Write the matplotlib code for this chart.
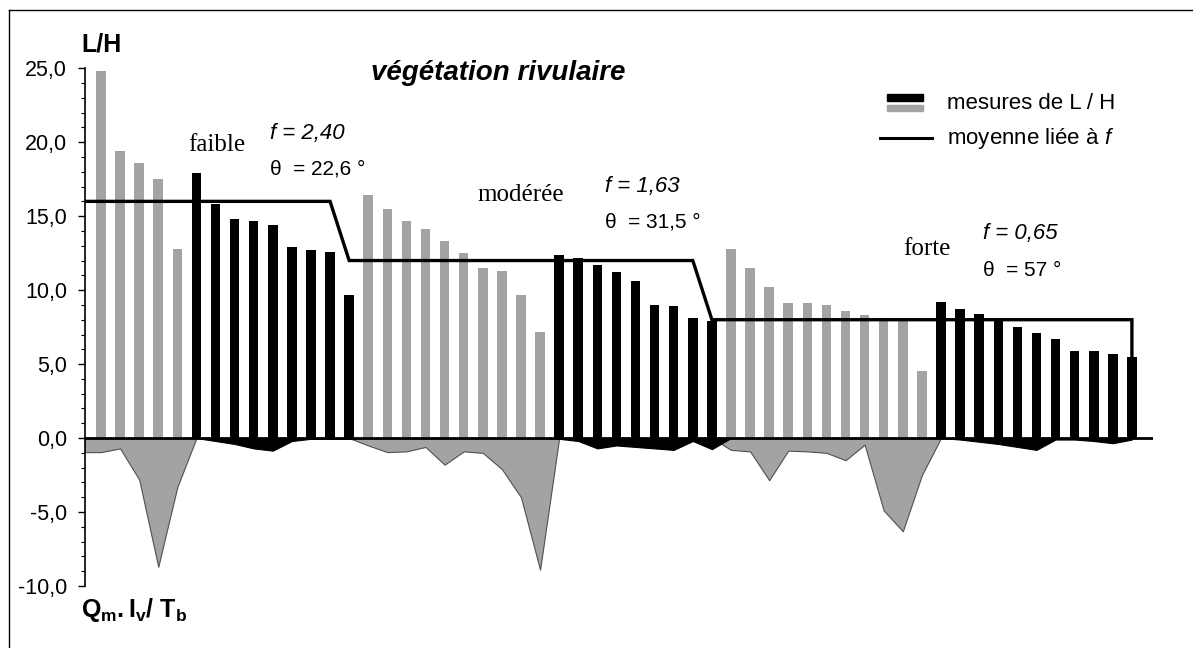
import numpy as np
import matplotlib
matplotlib.use("Agg")
import matplotlib.pyplot as plt
from matplotlib.lines import Line2D
from matplotlib.patches import Rectangle

plt.rcParams["font.family"] = ["Liberation Sans", "DejaVu Sans"]
plt.rcParams["mathtext.fontset"] = "custom"
plt.rcParams["mathtext.rm"] = "Liberation Sans"
plt.rcParams["mathtext.it"] = "Liberation Sans:italic"
plt.rcParams["mathtext.bf"] = "Liberation Sans:bold"

# L/H measurements, per vegetation class (grey series then black series)
lh_faible_gray = [24.8, 19.4, 18.6, 17.5, 12.8]
lh_faible_black = [17.9, 15.8, 14.8, 14.7, 14.4, 12.9, 12.7, 12.6, 9.7]
lh_moderee_gray = [16.4, 15.5, 14.7, 14.1, 13.3, 12.5, 11.5, 11.3, 9.7, 7.2]
lh_moderee_black = [12.4, 12.2, 11.7, 11.2, 10.6, 9.0, 8.9, 8.1, 7.9]
lh_forte_gray = [12.8, 11.5, 10.2, 9.1, 9.1, 9.0, 8.6, 8.3, 8.1, 7.9, 4.5]
lh_forte_black = [9.2, 8.7, 8.4, 8.0, 7.5, 7.1, 6.7, 5.9, 5.9, 5.7, 5.5]

# Qm.Iv/Tb (negative area under the bars), same order
q_faible_gray = [-0.95, -0.7, -2.8, -8.7, -3.3]
q_faible_black = [0.0, -0.2, -0.4, -0.7, -0.85, -0.2, -0.05, -0.05, -0.05]
q_moderee_gray = [-0.5, -0.95, -0.9, -0.6, -1.8, -0.9, -1.0, -2.1, -4.0, -8.9]
q_moderee_black = [-0.05, -0.2, -0.7, -0.5, -0.6, -0.7, -0.8, -0.2, -0.75]
q_forte_gray = [-0.8, -0.9, -2.85, -0.85, -0.9, -1.0, -1.5, -0.45, -4.9, -6.3, -2.5]
q_forte_black = [0.0, -0.1, -0.25, -0.4, -0.6, -0.8, -0.1, -0.1, -0.2, -0.35, -0.1]

# mean line linked to f
mean_levels = [16.0, 12.0, 8.0]
mean_counts = [13, 19, 23]

group_names = ["faible", "modérée", "forte"]
f_labels = ["2,40", "1,63", "0,65"]
theta_labels = ["22,6", "31,5", "57"]

yticks = [-10, -5, 0, 5, 10, 15, 20, 25]

# annotation anchors (data coords)
name_pos = [(4.56, 19.8), (19.7, 16.4), (42.0, 12.8)]
f_pos = [(8.85, 20.6), (26.4, 17.0), (46.2, 13.8)]
theta_pos = [(8.85, 18.2), (26.4, 14.6), (46.2, 11.3)]

GRAY = "#a3a3a3"
BLACK = "#000000"

lh_groups = [lh_faible_gray, lh_faible_black, lh_moderee_gray,
             lh_moderee_black, lh_forte_gray, lh_forte_black]
q_groups = [q_faible_gray, q_faible_black, q_moderee_gray,
            q_moderee_black, q_forte_gray, q_forte_black]

lh = np.concatenate(lh_groups)
q = np.concatenate(q_groups)
is_black = np.concatenate([np.full(len(g), k % 2 == 1) for k, g in enumerate(lh_groups)])
idx = np.arange(len(lh))
mean = np.repeat(mean_levels, mean_counts)

fig = plt.figure(figsize=(11.93, 6.48), dpi=100)
ax = fig.add_axes([0.0712, 0.0957, 0.8952, 0.799])
xmin, xmax = -0.84, 55.1

# negative area, split by colour
x_area = np.concatenate([[xmin], idx])
q_gray = np.where(~is_black, q, 0.0)
q_black = np.where(is_black, q, 0.0)
ax.fill_between(x_area, np.concatenate([[q_gray[0]], q_gray]), 0,
                color=GRAY, edgecolor="#505050", linewidth=0.8, zorder=2)
ax.fill_between(x_area, np.concatenate([[q_black[0]], q_black]), 0,
                color=BLACK, linewidth=0.8, zorder=2)

# bars
colors = np.where(is_black, BLACK, GRAY)
ax.bar(idx, lh, width=0.5, color=colors, zorder=3)

# mean line (ends by dropping onto the last bar)
x_mean = np.concatenate([[xmin], idx, [idx[-1]]])
y_mean = np.concatenate([[mean[0]], mean, [lh[-1]]])
ax.plot(x_mean, y_mean, color="black", linewidth=2.4, zorder=4, solid_joinstyle="miter")

ax.axhline(0, color="black", linewidth=2, zorder=5)

ax.set_xlim(xmin, xmax)
ax.set_ylim(-10, 25)
ax.set_xticks([])
ax.set_yticks(yticks)
ax.set_yticklabels([f"{v:.1f}".replace(".", ",") for v in yticks], fontsize=15.5)
ax.set_yticks(np.arange(-10, 26, 1), minor=True)
ax.tick_params(axis="y", which="major", length=5, width=1, pad=8, direction="out")
ax.tick_params(axis="y", which="minor", length=3, width=0.8, direction="out")
for s in ["top", "right", "bottom"]:
    ax.spines[s].set_visible(False)
ax.spines["left"].set_linewidth(1.2)

# class annotations
for name, fv, th, npos, fpos, tpos in zip(group_names, f_labels, theta_labels,
                                          name_pos, f_pos, theta_pos):
    ax.text(*npos, name, family=["Liberation Serif", "DejaVu Serif"], fontsize=18,
            ha="left", va="center")
    ax.text(*fpos, f"f = {fv}", fontsize=16, style="italic", ha="left", va="center")
    ax.text(*tpos, f"θ  = {th} °", fontsize=15, ha="left", va="center")

# titles
fig.text(0.418, 0.887, "végétation rivulaire", fontsize=20, weight="bold",
         style="italic", ha="center", va="center")
fig.text(0.068, 0.932, "L/H", fontsize=18, weight="bold", ha="left", va="center")
fig.text(0.068, 0.058, r"$\mathbf{Q_{m}.I_{v}/\ T_{b}}$", fontsize=18,
         ha="left", va="center")

# legend drawn by hand (two-tone bar symbol)
fig.add_artist(Rectangle((0.7435, 0.8441), 0.0302, 0.0108, color=BLACK,
                         transform=fig.transFigure))
fig.add_artist(Rectangle((0.7435, 0.8287), 0.0302, 0.0093, color=GRAY,
                         transform=fig.transFigure))
fig.text(0.7938, 0.841, "mesures de L / H", fontsize=16, ha="left", va="center")
fig.add_artist(Line2D([0.7376, 0.7812], [0.787, 0.787], color="black",
                      linewidth=2.2, transform=fig.transFigure))
fig.text(0.7938, 0.787, r"moyenne liée à $\mathit{f}$", fontsize=16,
         ha="left", va="center")

# frame lines (top and left)
fig.add_artist(Line2D([0.0075, 1.0], [0.9846, 0.9846], color="black",
                      linewidth=1, transform=fig.transFigure))
fig.add_artist(Line2D([0.0075, 0.0075], [0.0, 0.9846], color="black",
                      linewidth=1, transform=fig.transFigure))

fig.savefig("out.png", dpi=100)
plt.close(fig)
